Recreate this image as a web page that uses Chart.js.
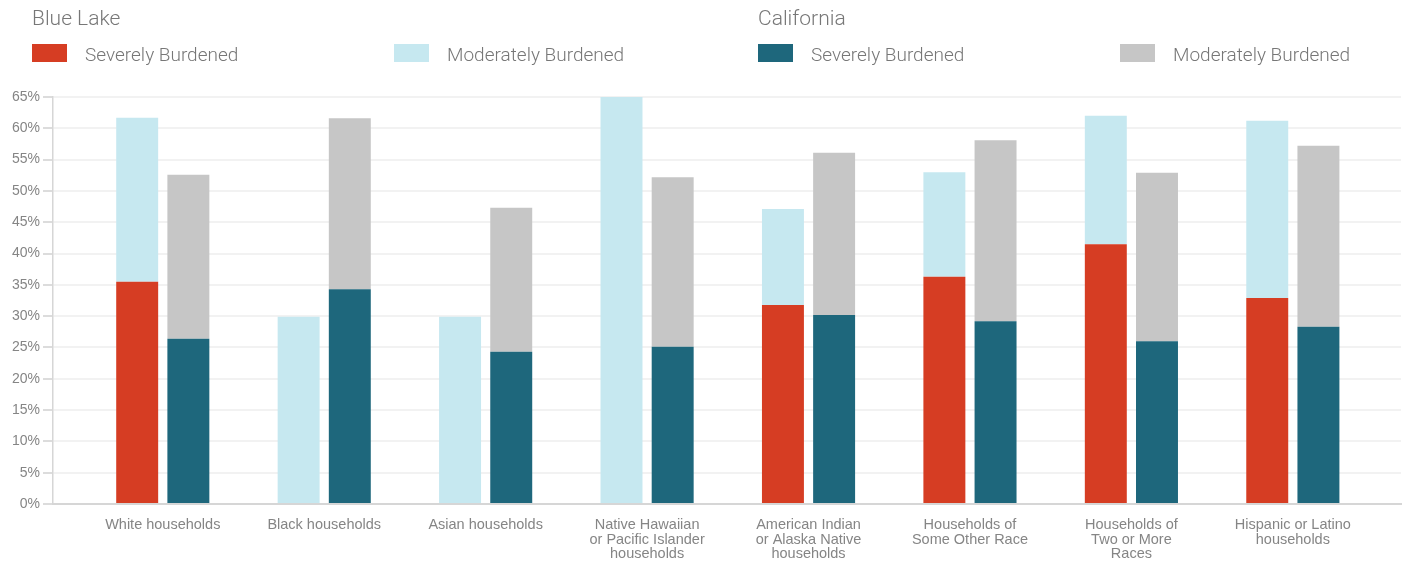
<!DOCTYPE html>
<html>
<head>
<meta charset="utf-8">
<title>Housing cost burden by race</title>
<script src="https://cdn.jsdelivr.net/npm/chart.js@4.4.1/dist/chart.umd.min.js"></script>
<style>
  html, body { margin: 0; padding: 0; background: #fff; }
  #wrap { width: 1408px; height: 564px; }
</style>
</head>
<body>
<div id="wrap"><canvas id="burden-chart"></canvas></div>
<script>
const categories = [
  "White households",
  "Black households",
  "Asian households",
  ["Native Hawaiian", "or Pacific Islander", "households"],
  ["American Indian", "or Alaska Native", "households"],
  ["Households of", "Some Other Race"],
  ["Households of", "Two or More", "Races"],
  ["Hispanic or Latino", "households"]
];

const groups = ["Blue Lake", "California"];

// percent of households
const blueLakeSevere = [35.5, 0, 0, 0, 31.8, 36.3, 41.5, 32.9];
const blueLakeModerate = [26.2, 29.9, 29.9, 65.0, 15.3, 16.7, 20.5, 28.3];
const californiaSevere = [26.4, 34.3, 24.3, 25.1, 30.2, 29.2, 26.0, 28.3];
const californiaModerate = [26.2, 27.3, 23.0, 27.1, 25.9, 28.9, 26.9, 28.9];

const yTicks = [0, 5, 10, 15, 20, 25, 30, 35, 40, 45, 50, 55, 60, 65];

const toPoints = values => values.map((v, i) => ({x: i, y: v}));

// two titled legend groups, one per stack
const groupLegend = {
  id: 'groupLegend',
  afterDraw(chart, args, opts) {
    const ctx = chart.ctx;
    ctx.save();
    ctx.textBaseline = 'middle';
    ctx.textAlign = 'left';
    groups.forEach((name, gi) => {
      const x0 = opts.left + gi * opts.groupGap;
      ctx.font = opts.titleFont;
      ctx.fillStyle = opts.color;
      ctx.fillText(name, x0, opts.titleY);
      const items = chart.data.datasets.filter(d => d.stack === 'g' + gi);
      items.forEach((d, i) => {
        const x = x0 + i * opts.itemGap;
        ctx.fillStyle = d.backgroundColor;
        ctx.fillRect(x, opts.boxY, opts.boxW, opts.boxH);
        ctx.font = opts.labelFont;
        ctx.fillStyle = opts.color;
        ctx.fillText(d.label, x + opts.boxW + 18, opts.boxY + opts.boxH / 2 + 3);
      });
    });
    ctx.restore();
  }
};

new Chart(document.getElementById('burden-chart'), {
  type: 'bar',
  data: {
    datasets: [
      {label: 'Severely Burdened', stack: 'g0', data: toPoints(blueLakeSevere), backgroundColor: '#d63d23'},
      {label: 'Moderately Burdened', stack: 'g0', data: toPoints(blueLakeModerate), backgroundColor: '#c6e8f0'},
      {label: 'Severely Burdened', stack: 'g1', data: toPoints(californiaSevere), backgroundColor: '#1e677c'},
      {label: 'Moderately Burdened', stack: 'g1', data: toPoints(californiaModerate), backgroundColor: '#c6c6c6'}
    ]
  },
  plugins: [groupLegend],
  options: {
    responsive: true,
    maintainAspectRatio: false,
    animation: false,
    categoryPercentage: 0.634,
    barPercentage: 0.82,
    layout: {padding: {top: 97, right: 7, left: 0, bottom: 0}},
    plugins: {
      legend: {display: false},
      tooltip: {enabled: false},
      groupLegend: {
        left: 32,
        groupGap: 726,
        itemGap: 362,
        titleY: 20,
        boxY: 44,
        boxW: 35,
        boxH: 18,
        color: '#777777',
        titleFont: "300 21px Roboto, 'Open Sans', sans-serif",
        labelFont: "300 19px Roboto, 'Open Sans', sans-serif"
      }
    },
    scales: {
      x: {
        type: 'linear',
        stacked: true,
        offset: false,
        min: -0.68,
        max: 7.67,
        afterBuildTicks: scale => {
          scale.ticks = categories.map((c, i) => ({value: i}));
        },
        afterFit: scale => { scale.height = 60; },
        grid: {display: false, drawTicks: false, offset: false},
        border: {color: '#d6d6d6', width: 2},
        ticks: {
          autoSkip: false,
          maxRotation: 0,
          padding: 14,
          color: '#858585',
          font: {family: "'Liberation Sans', Arial, sans-serif", size: 14.5, lineHeight: 1.0},
          callback: value => categories[Math.round(value)]
        }
      },
      y: {
        stacked: true,
        min: 0,
        max: 65,
        afterBuildTicks: scale => {
          scale.ticks = yTicks.map(v => ({value: v}));
        },
        afterFit: scale => { scale.width = 53; },
        grid: {color: '#f2f2f2', lineWidth: 2, tickColor: '#d0d0d0', tickLength: 10, tickWidth: 1.5},
        border: {color: '#d6d6d6', width: 1.5},
        ticks: {
          padding: 3,
          color: '#858585',
          font: {family: "'Liberation Sans', Arial, sans-serif", size: 14},
          callback: v => v + '%'
        }
      }
    }
  }
});
</script>
</body>
</html>
